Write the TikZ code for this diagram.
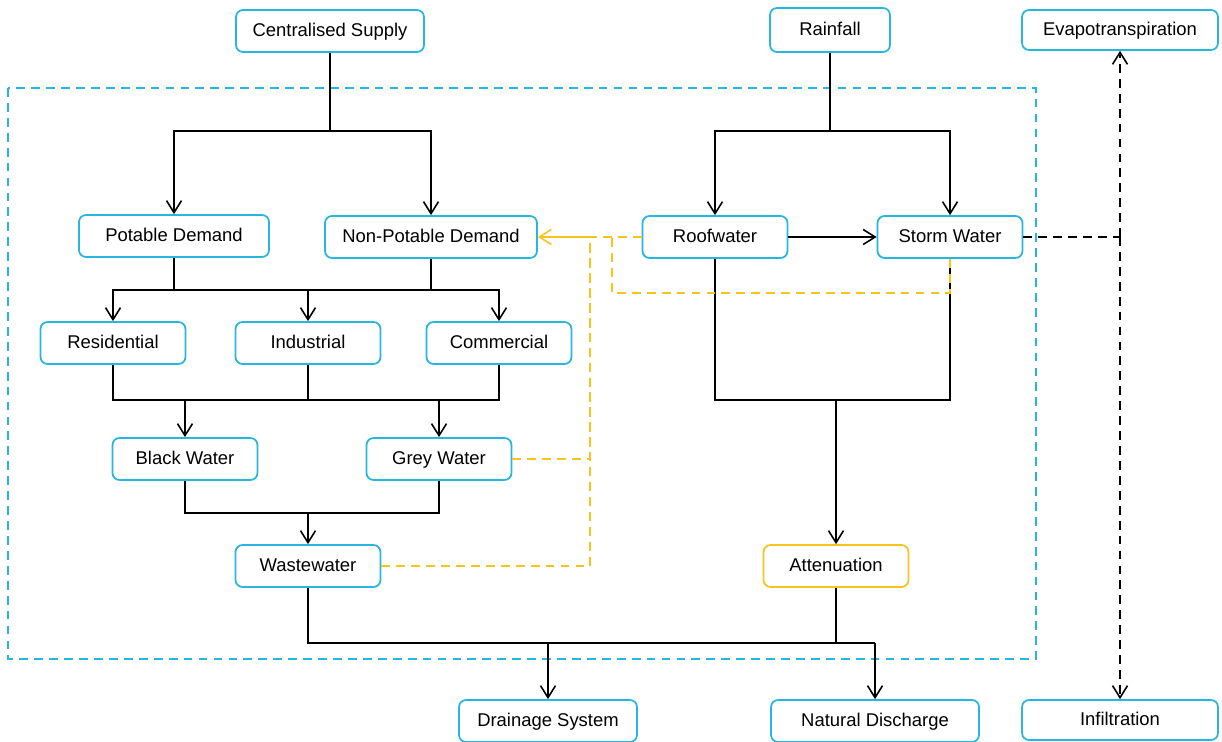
\documentclass[tikz,border=0pt]{standalone}
\usepackage{fontspec}
\setmainfont{Liberation Sans}
\usetikzlibrary{arrows.meta}
\definecolor{sky}{RGB}{41,182,222}
\definecolor{gold}{RGB}{247,196,30}
\tikzset{bx/.style = {rectangle, rounded corners=4pt, line width=1pt, draw=sky, fill=white,
                      minimum width=2.9cm, minimum height=0.84cm, inner sep=0pt,
                      text height=1.55ex, text depth=0.35ex,
                      font=\fontsize{10.5}{12}\selectfont},
           yb/.style = {bx, draw=gold},
           ln/.style = {line width=0.9pt},
           yd/.style = {ln, draw=gold, dash pattern=on 5pt off 3.5pt},
           bd/.style = {ln, dash pattern=on 5pt off 3.5pt}}

\begin{document}
\begin{tikzpicture}[x=0.02cm, y=-0.02cm, >={Straight Barb[length=2.4mm, width=3mm]}]
    \useasboundingbox (0,0) rectangle (1222,742);
    \draw[sky, line width=0.9pt, dash pattern=on 5pt off 3.5pt] (8,88) rectangle (1036,659);
    \node[bx, minimum width=3.76cm] (cs) at (330,31) {Centralised Supply};
    \node[bx, minimum width=2.4cm, minimum height=0.88cm] (rf) at (830,30) {Rainfall};
    \node[bx, minimum width=3.92cm, minimum height=0.8cm] (et) at (1120,30) {Evapotranspiration};
    \node[bx, minimum width=3.8cm] (pd) at (174,236) {Potable Demand};
    \node[bx, minimum width=4.24cm] (npd) at (431,237) {Non-Potable Demand};
    \node[bx] (rw) at (715,237) {Roofwater}; \node[bx] (sw) at (950,237) {Storm Water};
    \node[bx] (res) at (113,343) {Residential}; \node[bx] (ind) at (308,343) {Industrial};
    \node[bx] (com) at (499,343) {Commercial};
    \node[bx] (bw) at (185,459) {Black Water}; \node[bx] (gw) at (439,459) {Grey Water};
    \node[bx] (ww) at (308,566) {Wastewater}; \node[yb] (att) at (836,566) {Attenuation};
    \node[bx, minimum width=3.56cm] (ds) at (548,721) {Drainage System};
    \node[bx, minimum width=4.16cm] (nd) at (875,721) {Natural Discharge};
    \node[bx, minimum width=3.92cm, minimum height=0.8cm] (inf) at (1120,720) {Infiltration};
    % junctions
    \coordinate (c1) at (330,131); \coordinate (k0) at (830,131);
    \coordinate (d1) at (308,290);
    \coordinate (u1) at (185,400); \coordinate (u2) at (439,400); \coordinate (k1) at (836,400);
    \coordinate (v1) at (308,513);
    \coordinate (b1) at (548,643); \coordinate (b2) at (875,643);
    \coordinate (r1) at (590,237); \coordinate (r2) at (612,293); \coordinate (r3) at (612,237);
    \coordinate (e1) at (1120,237);
    % supply
    \draw[ln] (cs) -- (c1);
    \draw[ln, ->] (c1) -| (pd);
    \draw[ln, ->] (c1) -| (npd);
    \draw[ln] (rf) -- (k0);
    \draw[ln, ->] (k0) -| (rw);
    \draw[ln, ->] (k0) -| (sw);
    \draw[ln, ->] (rw) -- (sw);
    % demand
    \draw[ln] (pd) |- (d1);
    \draw[ln] (npd) |- (d1);
    \draw[ln, ->] (d1) -| (res);
    \draw[ln, ->] (d1) -- (ind);
    \draw[ln, ->] (d1) -| (com);
    \draw[ln] (res) |- (u2);
    \draw[ln] (com) |- (u1);
    \draw[ln] (ind) -- (ind |- u1);
    \draw[ln, ->] (u1) -- (bw);
    \draw[ln, ->] (u2) -- (gw);
    \draw[ln] (bw) |- (v1);
    \draw[ln] (gw) |- (v1);
    \draw[ln, ->] (v1) -- (ww);
    % runoff
    \draw[ln] (rw) |- (k1);
    \draw[ln] (sw) |- (k1);
    \draw[ln, ->] (k1) -- (att);
    \draw[ln] (ww) |- (b2);
    \draw[ln] (att) -- (att |- b2);
    \draw[ln, ->] (b1) -- (ds);
    \draw[ln, ->] (b2) -- (nd);
    % reuse
    \draw[yd] (rw) -- (r1);
    \draw[yd] (gw) -| (r1);
    \draw[yd] (ww) -| (r1);
    \draw[yd] (sw) |- (r2) -- (r3);
    \draw[ln, gold, ->] (r1) -- (npd);
    % losses
    \draw[bd] (sw) -- (e1);
    \draw[bd, ->] (e1) -- (et);
    \draw[bd, ->] (e1) -- (inf);
\end{tikzpicture}
\end{document}
